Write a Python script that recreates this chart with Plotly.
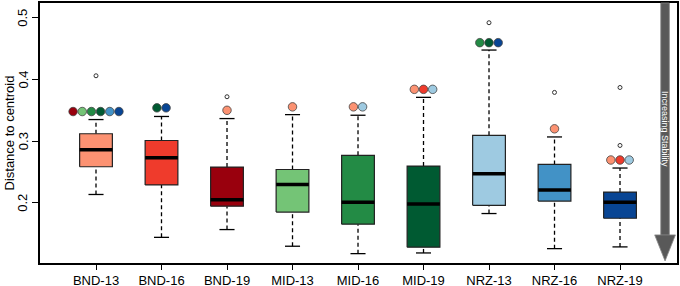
import plotly.graph_objects as go

groups = ["BND-13", "BND-16", "BND-19", "MID-13", "MID-16", "MID-19", "NRZ-13", "NRZ-16", "NRZ-19"]
colors = ["#FC9272", "#EF3B2C", "#99000D", "#74C476", "#238B45", "#005A32", "#9ECAE1", "#4292C6", "#084594"]

q1 = [0.2585, 0.229, 0.1946, 0.185, 0.1654, 0.128, 0.196, 0.2028, 0.175]
median = [0.286, 0.273, 0.205, 0.2298, 0.201, 0.198, 0.247, 0.2206, 0.201]
q3 = [0.312, 0.301, 0.258, 0.254, 0.277, 0.2596, 0.3094, 0.2623, 0.2174]
whisk_low = [0.2135, 0.144, 0.1566, 0.1296, 0.1176, 0.1187, 0.1826, 0.1257, 0.1285]
whisk_high = [0.335, 0.340, 0.3366, 0.343, 0.342, 0.371, 0.4477, 0.3068, 0.2564]
outliers = [[0.406], [], [0.372], [], [], [], [0.492], [0.379], [0.293, 0.387]]

# significance markers: indices of groups that differ, and height of marker row
sig_groups = [[2, 3, 4, 5, 7, 8], [5, 8], [0], [0], [0, 6], [0, 1, 6], [4, 5, 8], [0], [0, 1, 6]]
sig_y = [0.348, 0.354, 0.350, 0.3556, 0.3556, 0.384, 0.4597, 0.320, 0.2694]

y_ticks = [0.2, 0.3, 0.4, 0.5]
y_ticklabels = ["0.2", "0.3", "0.4", "0.5"]
y_title = "Distance to centroid"

positions = list(range(1, len(groups) + 1))
box_half = 0.25
cap_half = 0.115
dot_step = 0.14

fig = go.Figure()

for i, g in enumerate(groups):
    x = positions[i]
    # whiskers (dashed)
    fig.add_trace(go.Scatter(x=[x, x], y=[q3[i], whisk_high[i]], mode="lines",
                             line=dict(color="black", width=1.3, dash="4px,3px"),
                             showlegend=False, hoverinfo="skip"))
    fig.add_trace(go.Scatter(x=[x, x], y=[whisk_low[i], q1[i]], mode="lines",
                             line=dict(color="black", width=1.3, dash="4px,3px"),
                             showlegend=False, hoverinfo="skip"))
    # caps
    for wy in (whisk_high[i], whisk_low[i]):
        fig.add_trace(go.Scatter(x=[x - cap_half, x + cap_half], y=[wy, wy], mode="lines",
                                 line=dict(color="black", width=1.3),
                                 showlegend=False, hoverinfo="skip"))
    # box
    fig.add_trace(go.Scatter(
        x=[x - box_half, x + box_half, x + box_half, x - box_half, x - box_half],
        y=[q1[i], q1[i], q3[i], q3[i], q1[i]],
        mode="lines", fill="toself", fillcolor=colors[i],
        line=dict(color="#222222", width=1.2),
        showlegend=False, name=g, hoverinfo="skip"))
    # median
    fig.add_trace(go.Scatter(x=[x - box_half, x + box_half], y=[median[i], median[i]], mode="lines",
                             line=dict(color="black", width=3.5),
                             showlegend=False, hoverinfo="skip"))
    # outliers
    if outliers[i]:
        fig.add_trace(go.Scatter(x=[x] * len(outliers[i]), y=outliers[i], mode="markers",
                                 marker=dict(size=4, color="white", line=dict(color="#333333", width=1)),
                                 showlegend=False, hoverinfo="skip"))
    # significance dots
    sg = sig_groups[i]
    n = len(sg)
    xs = [x + (k - (n - 1) / 2) * dot_step for k in range(n)]
    fig.add_trace(go.Scatter(x=xs, y=[sig_y[i]] * n, mode="markers",
                             marker=dict(size=8.5, color=[colors[j] for j in sg],
                                         line=dict(color="#444444", width=0.8)),
                             showlegend=False, hoverinfo="skip"))

# y tick labels (rotated, R-style) and y title
for v, t in zip(y_ticks, y_ticklabels):
    fig.add_annotation(xref="paper", yref="y", x=0, y=v, text=t, showarrow=False,
                       textangle=-90, xanchor="center", yanchor="middle", xshift=-17,
                       font=dict(family="Liberation Sans, Arial", size=13, color="black"))
fig.add_annotation(xref="paper", yref="paper", x=0, y=0.5, text=y_title, showarrow=False,
                   textangle=-90, xanchor="center", yanchor="middle", xshift=-31.5,
                   font=dict(family="Liberation Sans, Arial", size=13, color="black"))

# arrow
shaft_col = "#595959"
fig.add_shape(type="rect", xref="paper", yref="paper", x0=0.9745, x1=0.988, y0=0.10, y1=1.0,
              fillcolor=shaft_col, line=dict(color="#888888", width=0.8), layer="above")
fig.add_shape(type="path", xref="paper", yref="paper",
              path="M 0.965 0.108 L 0.9975 0.108 L 0.98125 0.008 Z",
              fillcolor=shaft_col, line=dict(color="#888888", width=0.8), layer="above")
fig.add_annotation(xref="paper", yref="paper", x=0.9815, y=0.515, text="Increasing Stability",
                   showarrow=False, textangle=90, xanchor="center", yanchor="middle",
                   font=dict(family="Liberation Sans, Arial", size=9, color="white"))

fig.update_layout(
    width=680, height=286,
    margin=dict(l=40, r=3, t=3, b=23),
    paper_bgcolor="white", plot_bgcolor="white",
    font=dict(family="Liberation Sans, Arial", size=13, color="black"),
    xaxis=dict(range=[0.145, 9.87], tickvals=positions, ticktext=groups,
               ticks="outside", ticklen=5, tickwidth=1.2, tickcolor="black",
               showgrid=False, zeroline=False, showline=True, linecolor="black",
               linewidth=1.5, mirror=True, tickfont=dict(size=13),
               automargin=False),
    yaxis=dict(range=[0.1024, 0.524], tickvals=y_ticks, showticklabels=False,
               ticks="outside", ticklen=6, tickwidth=1.2, tickcolor="black",
               showgrid=False, zeroline=False, showline=True, linecolor="black",
               linewidth=1.5, mirror=True, automargin=False),
)

fig.write_html("out.html", config={"displayModeBar": False},
               post_script="document.body.style.margin='0px';document.body.style.padding='0px';document.body.style.overflow='hidden';")
